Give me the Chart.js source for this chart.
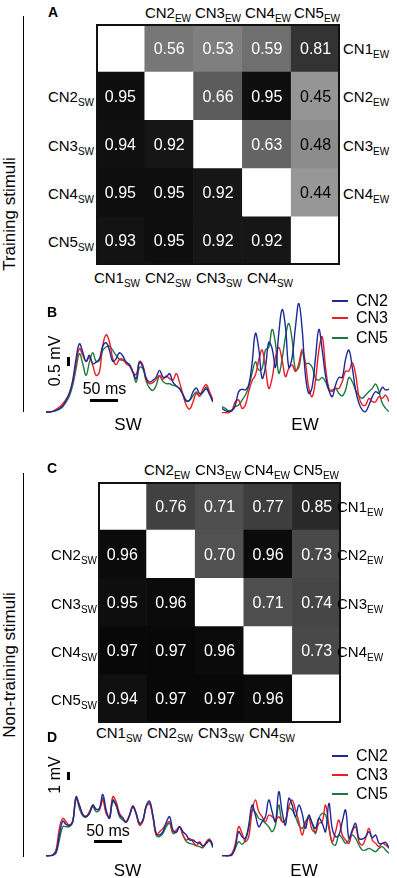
<!DOCTYPE html>
<html>
<head>
<meta charset="utf-8">
<script src="https://cdn.jsdelivr.net/npm/chart.js@4.4.0/dist/chart.umd.min.js"></script>
<style>
body { margin:0; background:#fff; }
#fig { position:relative; width:397px; height:878px; overflow:hidden; font-family:"Liberation Sans", Arial, sans-serif; color:#000; }
#fig canvas { position:absolute; }
.lbl { position:absolute; white-space:nowrap; line-height:1; }
.lbl sub { font-size:10px; vertical-align:-4px; line-height:0; }
.bar { position:absolute; }
</style>
</head>
<body>
<div id="fig">
  <canvas id="hmA" width="244" height="241" style="left:96px;top:24px"></canvas>
  <canvas id="swB" width="167" height="125" style="left:46px;top:290px"></canvas>
  <canvas id="ewB" width="167" height="125" style="left:222px;top:290px"></canvas>
  <canvas id="hmC" width="243" height="241" style="left:98px;top:482px"></canvas>
  <canvas id="swD" width="167" height="84" style="left:46px;top:775px"></canvas>
  <canvas id="ewD" width="167" height="84" style="left:222px;top:775px"></canvas>
</div>
<script>
// similarity matrices, rows CN1..CN5 (upper = EW, lower = SW)
var simTrain = [
  [null, 0.56, 0.53, 0.59, 0.81],
  [0.95, null, 0.66, 0.95, 0.45],
  [0.94, 0.92, null, 0.63, 0.48],
  [0.95, 0.95, 0.92, null, 0.44],
  [0.93, 0.95, 0.92, 0.92, null]
];
var simNonTrain = [
  [null, 0.76, 0.71, 0.77, 0.85],
  [0.96, null, 0.70, 0.96, 0.73],
  [0.95, 0.96, null, 0.71, 0.74],
  [0.97, 0.97, 0.96, null, 0.73],
  [0.94, 0.97, 0.97, 0.96, null]
];
var units = ['CN1', 'CN2', 'CN3', 'CN4', 'CN5'];

// sample times (ms), 6 ms step
var timeMs = [];
for (var i = 0; i <= 50; i++) timeMs.push(i * 6);

// B: training stimuli, mV
var trSW2 = [0.04,0.04,0.07,0.13,0.22,0.37,0.69,1.06,1.80,3.00,3.83,3.37,2.85,3.19,2.72,2.81,3.00,3.70,3.89,3.46,2.85,3.00,3.33,3.15,2.81,2.67,2.26,1.89,2.81,2.54,1.93,1.70,1.80,1.98,2.35,1.98,1.98,2.17,1.70,1.48,1.33,1.00,0.63,0.69,1.15,1.37,1.06,1.15,1.33,1.00,0.59];
var trSW3 = [0.04,0.04,0.07,0.19,0.31,0.50,0.74,1.11,1.70,2.72,3.56,3.19,2.85,3.09,2.63,2.07,2.26,3.74,4.33,3.93,3.00,2.67,2.96,2.96,2.72,2.59,2.26,2.11,2.85,2.63,1.85,1.61,1.67,1.85,2.07,1.85,2.04,1.89,1.80,2.17,1.67,1.00,0.41,0.19,0.59,1.06,0.93,1.33,1.56,1.15,0.69];
var trSW5 = [0.04,0.04,0.06,0.11,0.19,0.33,0.59,0.93,1.52,2.44,3.28,2.72,2.07,2.81,3.33,2.85,2.91,3.46,3.65,3.70,3.46,3.19,2.96,2.91,2.81,2.67,2.26,1.70,2.52,2.44,1.74,1.37,1.24,1.52,2.04,1.74,1.61,1.61,1.52,1.48,1.33,1.00,0.69,0.69,0.93,1.15,0.93,1.15,1.43,1.06,0.59];
var trEW2 = [0.24,0.11,0.06,0.11,0.43,1.17,1.30,1.26,1.54,2.74,4.41,3.57,1.91,2.52,3.91,3.57,2.52,4.41,5.74,4.78,2.52,3.07,4.78,6.07,4.63,2.04,1.07,1.44,3.07,4.63,3.48,2.04,1.26,0.89,1.54,1.96,1.96,2.98,3.48,2.52,1.26,0.52,0.15,0.06,0.43,0.89,1.17,1.07,1.41,1.26,1.30];
var trEW3 = [0,0,0,0.15,0.61,0.70,0.24,0.43,1.17,1.78,2.09,2.93,3.48,2.52,1.35,1.91,3.07,3.63,2.93,2.00,2.46,2.65,2.28,2.74,3.52,2.74,1.35,0.89,1.81,3.48,4.22,2.52,1.35,1.17,1.35,1.35,1.72,2.31,2.31,2.78,2.13,0.89,0.43,0.43,0.80,0.61,0.61,0.89,0.80,0.98,0.61];
var trEW5 = [0.33,0.24,0.11,0.15,0.33,0.43,0.70,0.98,1.44,2.19,2.83,2.37,2.46,3.48,3.63,4.63,3.85,2.19,2.98,4.22,4.96,4.04,2.37,2.52,3.39,2.74,2.74,2.52,1.91,1.81,1.96,1.72,1.26,1.26,1.35,1.07,0.93,1.26,1.96,1.72,1.26,0.93,0.80,0.98,1.17,1.35,1.59,1.17,0.52,0.24,0.06];

// D: non-training stimuli, mV
var ntSW2 = [0,0,0.08,0.48,2.48,4.16,3.76,3.60,4.08,7.08,6.08,4.96,4.68,5.08,6.08,5.56,5.68,7.36,5.48,4.48,6.68,6.08,4.88,4.48,4.08,4.88,5.88,5.08,3.88,4.28,6.00,6.56,4.88,2.68,2.48,2.88,4.00,4.68,3.08,2.80,3.48,2.88,2.48,1.88,1.88,1.60,1.48,1.20,1.48,1.88,1.08];
var ntSW3 = [0,0,0.08,0.68,3.28,4.48,4.08,3.68,4.16,6.88,6.00,4.96,4.76,5.28,6.08,5.60,5.60,6.68,5.08,4.68,7.08,6.48,5.08,4.56,4.00,4.80,6.00,5.08,3.68,4.16,5.88,6.28,4.68,2.48,2.88,3.28,3.76,4.08,2.88,3.08,3.48,2.48,1.88,2.08,1.68,1.20,1.68,1.08,1.68,2.00,1.20];
var ntSW5 = [0,0,0.04,0.28,1.88,3.48,3.48,3.48,4.00,6.88,5.68,4.80,4.64,5.08,5.88,5.28,5.48,6.96,5.28,4.56,6.48,6.00,4.68,4.28,4.00,4.80,5.88,4.96,3.68,4.16,5.88,6.28,4.68,2.48,2.28,2.68,3.48,3.88,2.68,2.88,3.48,2.48,1.68,1.48,1.36,1.20,1.08,0.96,1.48,1.76,0.96];
var ntEW2 = [0,0,0,0.08,1.08,2.88,2.28,2.08,3.68,6.08,4.88,3.48,4.08,4.68,6.68,5.28,4.08,7.68,5.28,3.68,6.88,6.08,4.68,6.08,5.08,3.28,4.88,3.88,3.28,4.48,3.88,2.88,6.28,3.28,2.28,2.48,4.08,5.48,2.08,3.08,3.88,2.08,2.00,2.28,2.88,2.16,2.48,1.48,1.48,1.60,0.88];
var ntEW3 = [0,0,0,0.28,1.48,3.48,2.68,1.68,2.28,5.28,6.68,5.28,4.68,4.08,4.88,4.68,4.28,4.68,4.08,4.28,5.88,6.68,5.48,4.08,2.48,3.88,4.48,3.08,2.88,3.88,4.08,6.08,3.68,1.68,2.88,4.28,2.48,1.88,1.48,2.88,3.48,1.68,1.28,2.08,3.28,1.88,1.48,1.08,1.48,1.28,0.96];
var ntEW5 = [0,0,0,0.16,0.88,1.68,1.36,1.88,3.28,5.48,5.20,4.48,4.28,3.88,3.48,2.88,3.68,6.08,4.08,4.28,5.68,5.48,4.68,3.68,3.28,4.08,4.68,3.88,2.68,4.48,5.08,4.88,3.28,1.48,1.28,2.48,2.08,1.48,1.88,2.48,2.08,1.28,0.68,0.68,0.88,0.68,0.48,0.88,1.08,0.68,0.28];

var colCN2 = '#1d2a96', colCN3 = '#ec1c24', colCN5 = '#1e7a3c';
var FONT = '"Liberation Sans", Arial, sans-serif';

function grey(v) {
  var g = Math.round(270 * (1 - v));
  return 'rgb(' + g + ',' + g + ',' + g + ')';
}

var cellText = {
  id: 'cellText',
  afterDatasetsDraw: function(chart) {
    var ctx = chart.ctx;
    ctx.save();
    ctx.font = '16px ' + FONT;
    ctx.textAlign = 'center';
    ctx.textBaseline = 'middle';
    chart.data.datasets.forEach(function(ds, i) {
      chart.getDatasetMeta(i).data.forEach(function(bar, j) {
        var v = ds.vals[j];
        if (v === null) return;
        ctx.fillStyle = v < 0.5 ? '#000' : '#fff';
        ctx.fillText(v.toFixed(2), bar.x, (bar.y + bar.base) / 2 + 1);
      });
    });
    var a = chart.chartArea;
    ctx.lineWidth = 2;
    ctx.strokeStyle = '#111';
    ctx.strokeRect(a.left + 1, a.top + 1, a.width - 2, a.height - 2);
    ctx.restore();
  }
};

function heatmap(id, rows) {
  var sets = [];
  for (var r = rows.length - 1; r >= 0; r--) {
    sets.push({
      data: rows[r].map(function() { return 1; }),
      vals: rows[r],
      backgroundColor: rows[r].map(function(v) { return v === null ? '#fff' : grey(v); }),
      borderWidth: 0,
      barPercentage: 1,
      categoryPercentage: 1
    });
  }
  new Chart(document.getElementById(id), {
    type: 'bar',
    data: { labels: units, datasets: sets },
    options: {
      responsive: false, animation: false, devicePixelRatio: 1,
      layout: { padding: 0 },
      scales: {
        x: { display: false, stacked: true },
        y: { display: false, stacked: true, min: 0, max: 5 }
      },
      plugins: { legend: { display: false }, tooltip: { enabled: false } }
    },
    plugins: [cellText]
  });
}

function traces(id, series, yMin, yMax) {
  new Chart(document.getElementById(id), {
    type: 'line',
    data: {
      labels: timeMs,
      datasets: series.map(function(s) {
        return { data: s[0], borderColor: s[1], borderWidth: 1.4, pointRadius: 0, tension: 0.4, fill: false, clip: false };
      })
    },
    options: {
      responsive: false, animation: false, devicePixelRatio: 1,
      layout: { padding: 0 },
      scales: { x: { display: false }, y: { display: false, min: yMin, max: yMax } },
      plugins: { legend: { display: false }, tooltip: { enabled: false } }
    }
  });
}

heatmap('hmA', simTrain);
heatmap('hmC', simNonTrain);
traces('swB', [[trSW2, colCN2], [trSW3, colCN3], [trSW5, colCN5]], -0.13, 6.82);
traces('ewB', [[trEW2, colCN2], [trEW3, colCN3], [trEW5, colCN5]], -0.13, 6.82);
traces('swD', [[ntSW2, colCN2], [ntSW3, colCN3], [ntSW5, colCN5]], -0.40, 9.69);
traces('ewD', [[ntEW2, colCN2], [ntEW3, colCN3], [ntEW5, colCN5]], -0.40, 9.69);

// ---- text and annotation ----
var fig = document.getElementById('fig');
function put(html, x, base, size, align, weight) {
  var el = document.createElement('div');
  el.className = 'lbl';
  el.innerHTML = html;
  el.style.fontSize = size + 'px';
  el.style.left = x + 'px';
  el.style.top = (base - 0.85 * size) + 'px';
  if (align === 'center') el.style.transform = 'translateX(-50%)';
  if (align === 'right') el.style.transform = 'translateX(-100%)';
  if (weight) el.style.fontWeight = weight;
  fig.appendChild(el);
}
function rot(text, cx, cy, size) {
  var el = document.createElement('div');
  el.className = 'lbl';
  el.textContent = text;
  el.style.fontSize = size + 'px';
  el.style.left = cx + 'px';
  el.style.top = cy + 'px';
  el.style.transform = 'translate(-50%,-50%) rotate(-90deg)';
  fig.appendChild(el);
}
function rect(x, y, w, h, c) {
  var el = document.createElement('div');
  el.className = 'bar';
  el.style.left = x + 'px'; el.style.top = y + 'px';
  el.style.width = w + 'px'; el.style.height = h + 'px';
  el.style.background = c;
  fig.appendChild(el);
}
function nm(i, s) { return units[i] + '<sub>' + s + '</sub>'; }

function matrixLabels(topBase, topX, rightX, leftX, rowY, botBase, botX) {
  for (var k = 0; k < 4; k++) {
    put(nm(k + 1, 'EW'), topX[k], topBase, 15, 'center');
    put(nm(0 + k, 'EW'), rightX, rowY[k] + 5.5, 15);
    put(nm(k + 1, 'SW'), leftX, rowY[k + 1] + 5.5, 15, 'right');
    put(nm(k, 'SW'), botX[k], botBase, 15, 'center');
  }
}
matrixLabels(18, [168, 218, 268, 317], 343, 94, [48, 96, 145, 193, 241], 283, [117, 168, 219, 270]);
matrixLabels(475, [167, 218, 267, 316], 337, 97, [506, 554, 603, 651, 699], 738, [119, 170, 221, 272]);

// panel letters
put('A', 48, 17, 14, null, 'bold');
put('B', 47, 317, 14, null, 'bold');
put('C', 47, 473, 14, null, 'bold');
put('D', 47, 742, 14, null, 'bold');

// side brackets
rect(22.5, 16, 1.5, 396, '#000');
rect(22.5, 473, 1.5, 384, '#000');
rot('Training stimuli', 9, 214, 17);
rot('Non-training stimuli', 9, 665, 17);

// scale bars B
rect(67, 357, 3, 9, '#000');
rot('0.5 mV', 55, 361, 16);
put('50 ms', 104.5, 395, 16, 'center');
rect(90, 399, 28, 3, '#000');
put('SW', 128, 430, 17, 'center');
put('EW', 305, 430, 17, 'center');

// scale bars D
rect(67, 772, 3, 8, '#000');
rot('1 mV', 54.5, 774.5, 16);
put('50 ms', 108, 837, 16, 'center');
rect(94, 840, 28, 3, '#000');
put('SW', 127.5, 876, 17, 'center');
put('EW', 304, 876, 17, 'center');

// legends
function legend(ys) {
  var cols = [colCN2, colCN3, colCN5], names = ['CN2', 'CN3', 'CN5'];
  for (var k = 0; k < 3; k++) {
    rect(332, ys[k] - 1, 16, 2, cols[k]);
    put(names[k], 356, ys[k] + 6, 16);
  }
}
legend([300.5, 317.5, 337.5]);
legend([756, 774.5, 794]);
</script>
</body>
</html>
